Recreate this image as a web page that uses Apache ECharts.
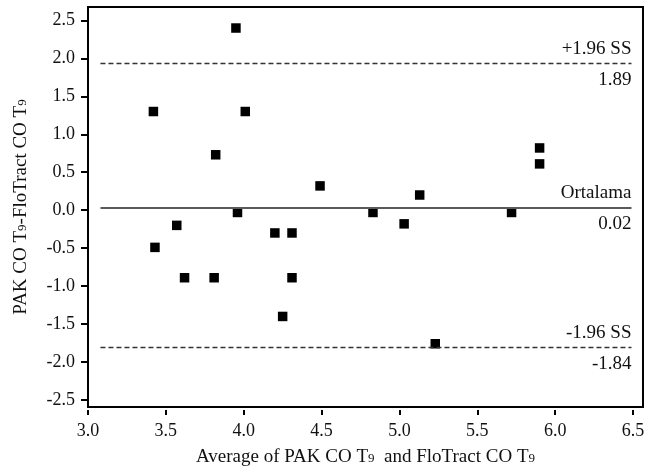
<!DOCTYPE html>
<html>
<head>
<meta charset="utf-8">
<script src="https://cdn.jsdelivr.net/npm/echarts@6/dist/echarts.min.js"></script>
<style>
  html, body { margin: 0; padding: 0; background: #fff; }
  #main { width: 656px; height: 476px; }
</style>
</head>
<body>
<div id="main"></div>
<script>
    // ortalama (x) ve fark (y) degerleri
    var avgValues  = [3.42, 3.95, 4.01, 3.82, 4.49, 3.96, 3.57, 4.20, 4.31, 3.43, 3.62,
                      3.81, 4.31, 4.25, 5.13, 4.83, 5.03, 5.72, 5.90, 5.90, 5.23];
    var diffValues = [1.30, 2.40, 1.30, 0.73, 0.32, -0.03, -0.20, -0.30, -0.30, -0.49, -0.89,
                      -0.89, -0.89, -1.40, 0.20, -0.03, -0.18, -0.03, 0.82, 0.61, -1.76];
    var xTicks = [3.0, 3.5, 4.0, 4.5, 5.0, 5.5, 6.0, 6.5];
    var yTicks = [-2.5, -2.0, -1.5, -1.0, -0.5, 0.0, 0.5, 1.0, 1.5, 2.0, 2.5];
    // referans cizgileri (cizildigi yer) ve etiketleri
    var lineLevels = [1.935, 0.029, -1.806];
    var lineNames  = ['+1.96 SS', 'Ortalama', '-1.96 SS'];
    var lineLabels = ['1.89', '0.02', '-1.84'];
    var lineFrom = 3.08, lineTo = 6.49;

    var font = 'Liberation Serif';
    var points = [];
    for (var i = 0; i < avgValues.length; i++) {
        points.push([avgValues[i], diffValues[i]]);
    }

    var markData = [];
    for (var k = 0; k < lineLevels.length; k++) {
        var solid = (k === 1);
        var ls = {color: solid ? '#5a5a5a' : '#333', width: solid ? 2 : 1.4, type: solid ? 'solid' : [5, 3]};
        markData.push([
            {coord: [lineFrom, lineLevels[k]], lineStyle: ls,
             label: {show: true, position: 'insideEndTop', formatter: lineNames[k], distance: [0, 5]}},
            {coord: [lineTo, lineLevels[k]]}
        ]);
        // ayni cizgi, sadece alt etiket icin (gorunmez)
        markData.push([
            {coord: [lineFrom, lineLevels[k]], lineStyle: {color: 'rgba(0,0,0,0)', width: 1},
             label: {show: true, position: 'insideEndBottom', formatter: lineLabels[k], color: '#111', distance: [0, 7]}},
            {coord: [lineTo, lineLevels[k]]}
        ]);
    }

    var rich = {s: {fontFamily: font, fontSize: 13, color: '#111', padding: [3, 0, 0, 0]}};

    var myChart = echarts.init(document.getElementById('main'));
    var option = {
        animation: false,
        backgroundColor: '#fff',
        grid: {
            left: 88, right: 13, top: 7, bottom: 69,
            show: true, borderColor: '#000', borderWidth: 2, backgroundColor: 'transparent'
        },
        xAxis: {
            type: 'value',
            min: 3.0, max: 6.564,
            offset: 3,
            name: 'Average of PAK CO T{s|9}  and FloTract CO T{s|9}',
            nameLocation: 'middle',
            nameGap: 38,
            nameTextStyle: {fontFamily: font, fontSize: 19, color: '#111', rich: rich},
            axisLine: {show: false, onZero: false},
            axisTick: {show: true, length: 5, lineStyle: {color: '#000', width: 2}, customValues: xTicks},
            axisLabel: {
                fontFamily: font, fontSize: 18, color: '#111', margin: 12,
                customValues: xTicks,
                formatter: function (v) { return v.toFixed(1); }
            },
            splitLine: {show: false}
        },
        yAxis: {
            type: 'value',
            min: -2.593, max: 2.677,
            name: 'PAK CO T{s|9}-FloTract CO T{s|9}',
            nameLocation: 'middle',
            nameGap: 57,
            nameTextStyle: {fontFamily: font, fontSize: 19, color: '#111', rich: rich},
            axisLine: {show: true, onZero: false, lineStyle: {color: '#000', width: 2}},
            axisTick: {show: true, length: 7, lineStyle: {color: '#000', width: 2}, customValues: yTicks},
            axisLabel: {
                fontFamily: font, fontSize: 18, color: '#111', margin: 13,
                customValues: yTicks,
                formatter: function (v) { return v.toFixed(1); }
            },
            splitLine: {show: false}
        },
        series: [{
            type: 'scatter',
            data: points,
            symbol: 'rect',
            symbolSize: 9.5,
            itemStyle: {color: '#000', opacity: 1},
            markLine: {
                silent: true,
                symbol: 'none',
                label: {fontFamily: font, fontSize: 19, color: '#111', distance: 5},
                data: markData
            }
        }]
    };
    myChart.setOption(option);
</script>
</body>
</html>
